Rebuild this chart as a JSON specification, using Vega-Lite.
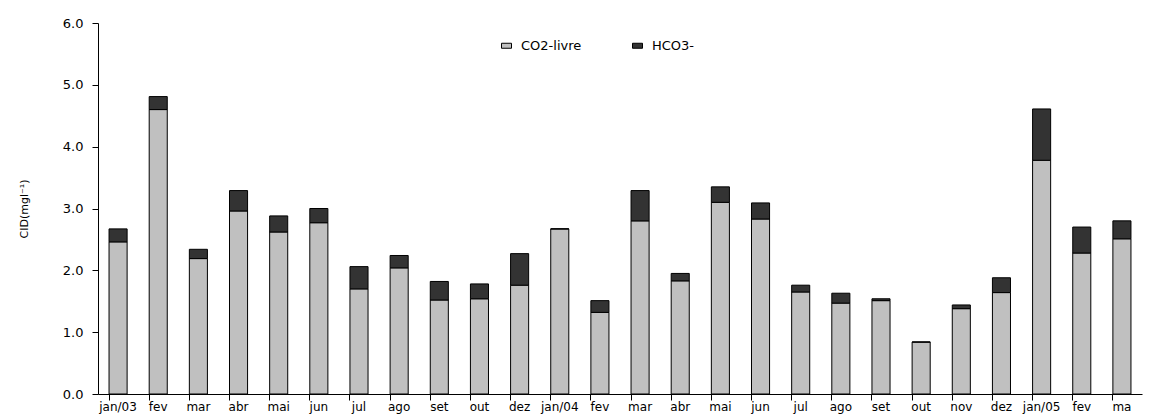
{
  "$schema": "https://vega.github.io/schema/vega-lite/v6.json",
  "width": 1044,
  "height": 371,
  "autosize": {"type": "none"},
  "padding": {"left": 98, "top": 23, "right": 10, "bottom": 25},
  "background": "white",
  "config": {"view": {"stroke": null}, "font": "DejaVu Sans"},
  "data": {
    "values": [
      {"mes": "jan/03", "CO2-livre": 2.46, "HCO3-": 0.21},
      {"mes": "fev/03", "CO2-livre": 4.60, "HCO3-": 0.21},
      {"mes": "mar/03", "CO2-livre": 2.19, "HCO3-": 0.15},
      {"mes": "abr/03", "CO2-livre": 2.96, "HCO3-": 0.33},
      {"mes": "mai/03", "CO2-livre": 2.62, "HCO3-": 0.26},
      {"mes": "jun/03", "CO2-livre": 2.77, "HCO3-": 0.23},
      {"mes": "jul/03", "CO2-livre": 1.70, "HCO3-": 0.36},
      {"mes": "ago/03", "CO2-livre": 2.04, "HCO3-": 0.20},
      {"mes": "set/03", "CO2-livre": 1.52, "HCO3-": 0.30},
      {"mes": "out/03", "CO2-livre": 1.54, "HCO3-": 0.24},
      {"mes": "dez/03", "CO2-livre": 1.76, "HCO3-": 0.51},
      {"mes": "jan/04", "CO2-livre": 2.67, "HCO3-": 0.00},
      {"mes": "fev/04", "CO2-livre": 1.32, "HCO3-": 0.19},
      {"mes": "mar/04", "CO2-livre": 2.80, "HCO3-": 0.49},
      {"mes": "abr/04", "CO2-livre": 1.83, "HCO3-": 0.12},
      {"mes": "mai/04", "CO2-livre": 3.10, "HCO3-": 0.25},
      {"mes": "jun/04", "CO2-livre": 2.83, "HCO3-": 0.26},
      {"mes": "jul/04", "CO2-livre": 1.65, "HCO3-": 0.11},
      {"mes": "ago/04", "CO2-livre": 1.47, "HCO3-": 0.16},
      {"mes": "set/04", "CO2-livre": 1.51, "HCO3-": 0.03},
      {"mes": "out/04", "CO2-livre": 0.84, "HCO3-": 0.00},
      {"mes": "nov/04", "CO2-livre": 1.38, "HCO3-": 0.06},
      {"mes": "dez/04", "CO2-livre": 1.64, "HCO3-": 0.24},
      {"mes": "jan/05", "CO2-livre": 3.78, "HCO3-": 0.83},
      {"mes": "fev/05", "CO2-livre": 2.28, "HCO3-": 0.42},
      {"mes": "mar/05", "CO2-livre": 2.51, "HCO3-": 0.29}
    ]
  },
  "transform": [{"fold": ["CO2-livre", "HCO3-"], "as": ["serie", "valor"]}],
  "mark": {"type": "bar", "stroke": "black", "strokeWidth": 1},
  "encoding": {
    "x": {
      "field": "mes",
      "type": "nominal",
      "sort": null,
      "scale": {"paddingInner": 0.55, "paddingOuter": 0.275},
      "axis": {
        "title": null,
        "bandPosition": 0,
        "labelAngle": 0,
        "labelFontSize": 12,
        "labelColor": "black",
        "tickColor": "black",
        "tickSize": 6,
        "tickWidth": 1,
        "domainColor": "black",
        "labelPadding": 1,
        "labelOverlap": false,
        "labelExpr": "datum.value == 'mar/05' ? 'ma' : (indexof(datum.value, 'jan') == 0 ? datum.value : split(datum.value, '/')[0])"
      }
    },
    "y": {
      "field": "valor",
      "type": "quantitative",
      "stack": "zero",
      "scale": {"domain": [0, 6]},
      "axis": {
        "values": [0, 1, 2, 3, 4, 5, 6],
        "format": ".1f",
        "grid": false,
        "tickSize": 6,
        "tickColor": "black",
        "domainColor": "black",
        "labelPadding": 9,
        "labelFontSize": 13,
        "labelColor": "black",
        "title": "CID(mgl⁻¹)",
        "titleFontSize": 11,
        "titleFontWeight": "normal",
        "titleColor": "black",
        "titlePadding": 33
      }
    },
    "color": {
      "field": "serie",
      "type": "nominal",
      "scale": {"domain": ["CO2-livre", "HCO3-"], "range": ["#c0c0c0", "#333333"]},
      "legend": {
        "title": null,
        "orient": "none",
        "legendX": 402,
        "legendY": 16,
        "direction": "horizontal",
        "symbolType": "M-1,-0.5H1V0.5H-1Z",
        "symbolSize": 100,
        "symbolStrokeColor": "black",
        "symbolStrokeWidth": 1,
        "labelFontSize": 13,
        "labelColor": "black",
        "labelOffset": 8,
        "columnPadding": 48
      }
    },
    "order": {"field": "serie", "type": "nominal"}
  }
}
